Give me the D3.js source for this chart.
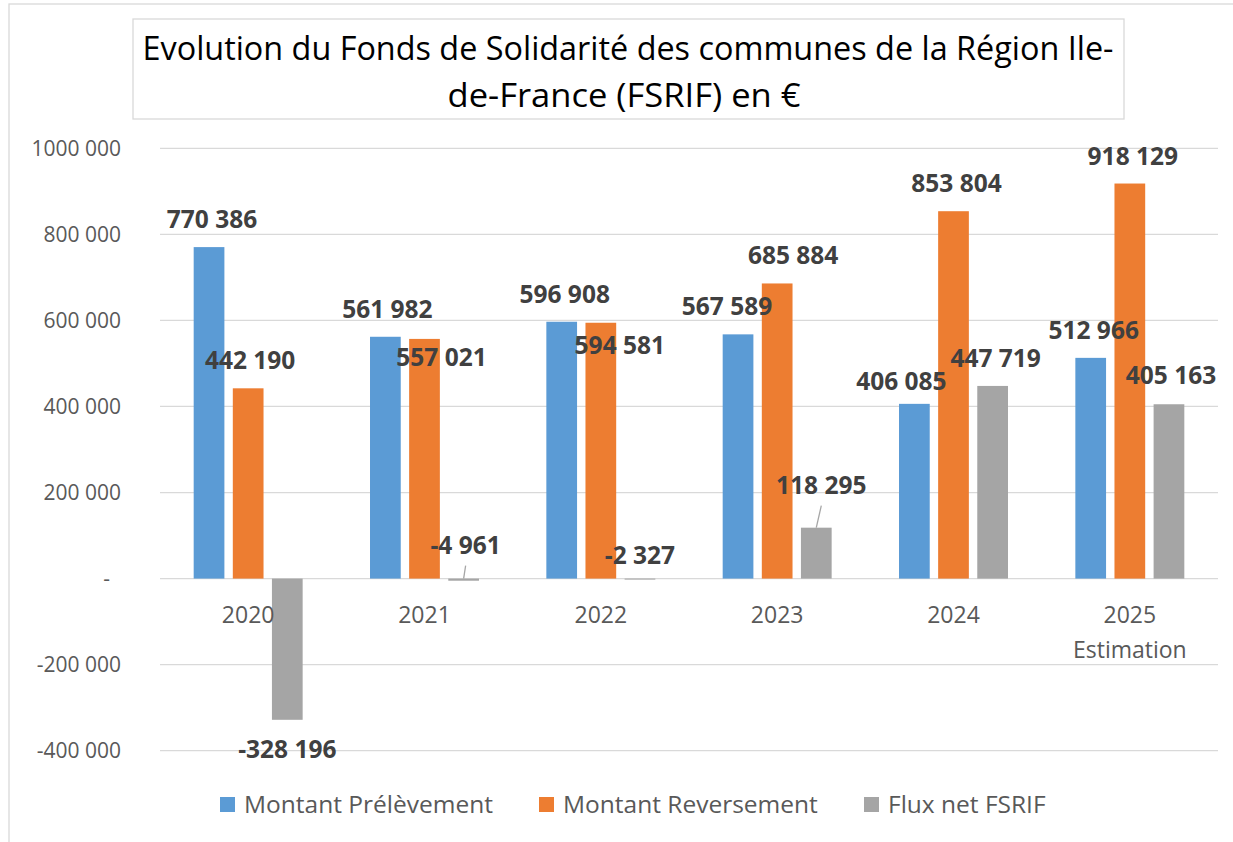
<!DOCTYPE html>
<html>
<head>
<meta charset="utf-8">
<script src="https://cdn.jsdelivr.net/npm/d3@7"></script>
<style>
  html, body { margin: 0; padding: 0; background: #fff; }
  svg { display: block; font-family: "Open Sans", "Noto Sans", sans-serif; }
</style>
</head>
<body>
<svg id="chart" width="1233" height="842"></svg>
<script>
// data
const categories = ["2020", "2021", "2022", "2023", "2024", "2025"];
const categoryLabels = [["2020"], ["2021"], ["2022"], ["2023"], ["2024"], ["2025", "Estimation"]];
const seriesNames = ["Montant Prélèvement", "Montant Reversement", "Flux net FSRIF"];
const prelevement = [770386, 561982, 596908, 567589, 406085, 512966];
const reversement = [442190, 557021, 594581, 685884, 853804, 918129];
const fluxNet = [-328196, -4961, -2327, 118295, 447719, 405163];
const yTicks = [1000000, 800000, 600000, 400000, 200000, 0, -200000, -400000];
const yTickLabels = ["1000 000", "800 000", "600 000", "400 000", "200 000", "-", "-200 000", "-400 000"];
const titleLines = ["Evolution du Fonds de Solidarité des communes de la Région Ile-", "de-France (FSRIF) en €"];

const colors = ["#5B9BD5", "#ED7D31", "#A5A5A5"];

// manual nudges of data labels, like the ones dragged in the original
const labelNudges = [
  [[3, 0], [2, 0], [3, 0], [-11, 0], [-13, 5], [3, 0]],
  [[2, 0], [17, 46], [19, 50], [16, 0], [3, 0], [3, 0]],
  [[0, 0], [2, -65], [0, -54], [5, -15], [3, 0], [2, -1]]
];
const leaders = [[], [], [1, 3]];

const series = [prelevement, reversement, fluxNet];

const svg = d3.select('#chart');
const fmt = d3.formatLocale({ decimal: ",", thousands: " ", grouping: [3], currency: ["", " €"], minus: "-" }).format(",d");

// outer chart border
svg.append('rect')
  .attr('x', 9).attr('y', 4).attr('width', 1260).attr('height', 880)
  .attr('fill', 'none').attr('stroke', '#D9D9D9').attr('stroke-width', 1.3);

// title box
svg.append('rect')
  .attr('x', 133).attr('y', 19).attr('width', 991).attr('height', 100)
  .attr('fill', '#fff').attr('stroke', '#D9D9D9').attr('stroke-width', 1.3);

const title = svg.append('text')
  .attr('text-anchor', 'middle')
  .attr('font-size', 32)
  .attr('fill', '#000');
title.append('tspan').attr('x', 628).attr('y', 60).attr('textLength', 971).attr('lengthAdjust', 'spacingAndGlyphs').text(titleLines[0]);
title.append('tspan').attr('x', 624).attr('y', 107).attr('textLength', 353).attr('lengthAdjust', 'spacingAndGlyphs').text(titleLines[1]);

const plotLeft = 160, plotRight = 1218;

const y = d3.scaleLinear().domain([-400000, 1000000]).range([750.7, 148.3]);

const x0 = d3.scaleBand().domain(categories).range([plotLeft, plotRight])
  .paddingInner(0.382).paddingOuter(0.191);
const x1 = d3.scaleBand().domain(d3.range(series.length)).range([0, x0.bandwidth()])
  .paddingInner(0.215).paddingOuter(0);

// gridlines
svg.append('g').selectAll('line')
  .data(yTicks)
  .join('line')
  .attr('x1', plotLeft).attr('x2', plotRight)
  .attr('y1', d => y(d)).attr('y2', d => y(d))
  .attr('stroke', '#D9D9D9').attr('stroke-width', 1.3);

// y tick labels
svg.append('g').selectAll('text')
  .data(yTicks)
  .join('text')
  .attr('x', (d, i) => yTickLabels[i] === '-' ? 110 : 121)
  .attr('y', d => y(d))
  .attr('dy', '0.36em')
  .attr('text-anchor', 'end')
  .attr('font-size', 21)
  .attr('fill', '#595959')
  .text((d, i) => yTickLabels[i]);

// bars
const groups = svg.append('g').selectAll('g')
  .data(categories)
  .join('g')
  .attr('transform', d => `translate(${x0(d)},0)`);

groups.selectAll('rect')
  .data((c, ci) => series.map((s, si) => ({ si, ci, v: s[ci] })))
  .join('rect')
  .attr('x', d => x1(d.si))
  .attr('width', x1.bandwidth())
  .attr('y', d => y(Math.max(0, d.v)))
  .attr('height', d => Math.abs(y(d.v) - y(0)))
  .attr('fill', d => colors[d.si]);

// data labels
const labels = [];
series.forEach((s, si) => {
  s.forEach((v, ci) => {
    const cx = x0(categories[ci]) + x1(si) + x1.bandwidth() / 2;
    const base = v >= 0 ? y(v) - 19 : y(v) + 38;
    const [dx, dy] = labelNudges[si][ci];
    labels.push({ si, ci, v, bx: cx, x: cx + dx, y: base + dy });
  });
});

// leader lines for labels moved away from their bar
svg.append('g').selectAll('line')
  .data(labels.filter(d => leaders[d.si].includes(d.ci)))
  .join('line')
  .attr('x1', d => d.x).attr('y1', d => d.y + 12)
  .attr('x2', d => d.bx).attr('y2', d => y(Math.max(0, d.v)))
  .attr('stroke', '#A6A6A6').attr('stroke-width', 1.3);

svg.append('g').selectAll('text')
  .data(labels)
  .join('text')
  .attr('x', d => d.x)
  .attr('y', d => d.y)
  .attr('text-anchor', 'middle')
  .attr('font-size', 24.5)
  .attr('font-weight', 'bold')
  .attr('fill', '#404040')
  .text(d => fmt(d.v));

// category labels
const catText = svg.append('g').selectAll('text')
  .data(categories)
  .join('text')
  .attr('text-anchor', 'middle')
  .attr('font-size', 23)
  .attr('fill', '#595959');
catText.selectAll('tspan')
  .data((d, i) => categoryLabels[i].map(t => ({ t, c: d })))
  .join('tspan')
  .attr('x', d => x0(d.c) + x0.bandwidth() / 2)
  .attr('y', (d, i) => 622.7 + i * 35.5)
  .text(d => d.t);

// legend
const legendX = [220, 539, 864];
const legend = svg.append('g').selectAll('g')
  .data(seriesNames)
  .join('g')
  .attr('transform', (d, i) => `translate(${legendX[i]},797)`);
legend.append('rect')
  .attr('width', 15).attr('height', 15)
  .attr('fill', (d, i) => colors[i]);
legend.append('text')
  .attr('x', 24).attr('y', 16)
  .attr('font-size', 24.5)
  .attr('fill', '#595959')
  .text(d => d);
</script>
</body>
</html>
